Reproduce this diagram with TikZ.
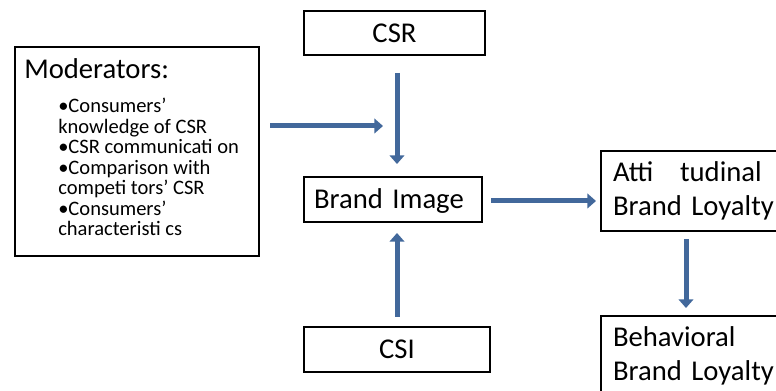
\documentclass[tikz,border=0pt]{standalone}
\usepackage{fontspec}
\setmainfont{Carlito}
\usetikzlibrary{arrows.meta,positioning,calc}
\definecolor{linkblue}{RGB}{66,104,155}

\begin{document}
\begin{tikzpicture}[
    x=0.75pt, y=-0.75pt,
    box/.style={rectangle, draw=black, line width=1.5pt, inner sep=0pt},
    tagbox/.style={box, font=\fontsize{21.5}{26}\selectfont, text height=13.85pt, text depth=0pt},
    loyalty/.style={box, font=\fontsize{21.5}{26}\selectfont, align=left, text width=132pt, inner xsep=9pt, minimum height=60pt, anchor=north west},
    flow/.style={-{Triangle[width=11pt, length=6.5pt]}, line width=3.75pt, linkblue}
]
    \useasboundingbox (0,0) rectangle (776,391);

    % drivers and the central construct
    \node[tagbox, minimum width=135.75pt, minimum height=33pt] (csr) at (394.5,33) {CSR};
    \node[tagbox, minimum height=33.75pt, text width=118.5pt, align=left, inner xsep=7.5pt] (brand) at (393,199.5) {Brand Image};
    \node[tagbox, minimum width=139.5pt, minimum height=33.75pt] (csi) at (397,349.5) {CSI};

    % moderators box
    \node[box, anchor=north west, minimum width=183pt, minimum height=156.75pt] (mod) at (14,46) {};
    \node[font=\fontsize{21.5}{26}\selectfont, anchor=base west, inner sep=0pt] (modtitle) at (24,79) {Moderators:};
    \node[font=\fontsize{15.4}{15.4}\selectfont, align=left, anchor=north west, inner sep=0pt] (modlist) at (58,98)
        {•Consumers’\\knowledge of CSR\\•CSR communicati on\\•Comparison with\\competi tors’ CSR\\•Consumers’\\characteristi cs};

    % loyalty outcomes
    \node[loyalty] (att) at (600,150) {Atti\hspace{20pt}tudinal\\Brand Loyalty};
    \node[loyalty] (beh) at (600,315) {Behavioral\\Brand Loyalty};

    % arrows
    \coordinate (merge) at (383,126);
    \draw[flow] ($(mod.east |- merge)+(10,0)$) -- (merge);
    \draw[flow] ($(csr.south -| csi.north)+(0,17)$) -- ($(brand.north -| csi.north)+(0,-12)$);
    \draw[flow] ($(csi.north)+(0,-9)$) -- ($(brand.south -| csi.north)+(0,10)$);
    \draw[flow] ($(brand.east)+(8,1.5)$) -- ($(brand.east -| att.west)+(-4,1.5)$);
    \draw[flow] ($(att.south west)+(86,7)$) -- ($(att.south west |- beh.north)+(86,-7)$);
\end{tikzpicture}
\end{document}
